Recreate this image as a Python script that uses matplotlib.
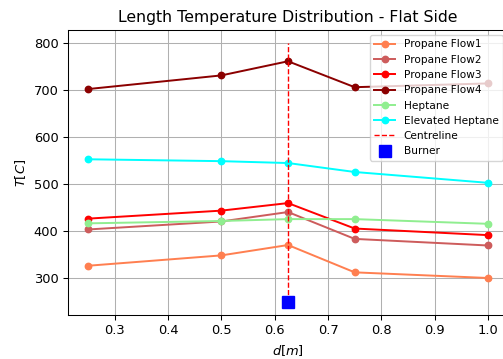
import numpy as np
import matplotlib.pyplot as plt

# positions along the flat side
d = [0.25, 0.5, 0.625, 0.75, 1.0]

propane_flow1 = [327, 349, 371, 313, 301]
propane_flow2 = [404, 421, 441, 384, 370]
propane_flow3 = [427, 444, 460, 406, 392]
propane_flow4 = [702, 731, 761, 706, 714]
heptane = [417, 422, 426, 426, 416]
elevated_heptane = [553, 549, 545, 526, 503]

centre_x = 0.625
centre_y = [250, 800]
burner_x = 0.625
burner_y = 250

s = 0.94  # the reference looks scaled down a bit
plt.rcParams['font.size'] = 10 * s
plt.rcParams['lines.linewidth'] = 1.5 * s
plt.rcParams['axes.linewidth'] = 0.8 * s
plt.rcParams['grid.linewidth'] = 0.8 * s
plt.rcParams['xtick.major.width'] = 0.8 * s
plt.rcParams['ytick.major.width'] = 0.8 * s
plt.rcParams['xtick.major.size'] = 3.5 * s
plt.rcParams['ytick.major.size'] = 3.5 * s

fig = plt.figure(figsize=(5.03, 3.59), dpi=100)
ax = fig.add_axes([0.1352, 0.1226, 0.8748, 0.794])

ms = 4.6
ax.plot(d, propane_flow1, '-o', color='coral', markersize=ms, label='Propane Flow1')
ax.plot(d, propane_flow2, '-o', color='indianred', markersize=ms, label='Propane Flow2')
ax.plot(d, propane_flow3, '-o', color='red', markersize=ms, label='Propane Flow3')
ax.plot(d, propane_flow4, '-o', color='darkred', markersize=ms, label='Propane Flow4')
ax.plot(d, heptane, '-o', color='lightgreen', markersize=ms, label='Heptane')
ax.plot(d, elevated_heptane, '-o', color='cyan', markersize=ms, label='Elevated Heptane')
ax.plot([centre_x, centre_x], centre_y, '--', color='red', linewidth=1.0, label='Centreline')
ax.plot([burner_x], [burner_y], 's', color='blue', markersize=8.5, label='Burner')

ax.set_title('Length Temperature Distribution - Flat Side', fontsize=11.3, pad=6 * s)
ax.set_xlabel('$d[m]$')
ax.set_ylabel('$T[C]$')
ax.grid(True)
ax.legend(loc='upper right', fontsize=7.6)

plt.savefig('out.png', dpi=100)
